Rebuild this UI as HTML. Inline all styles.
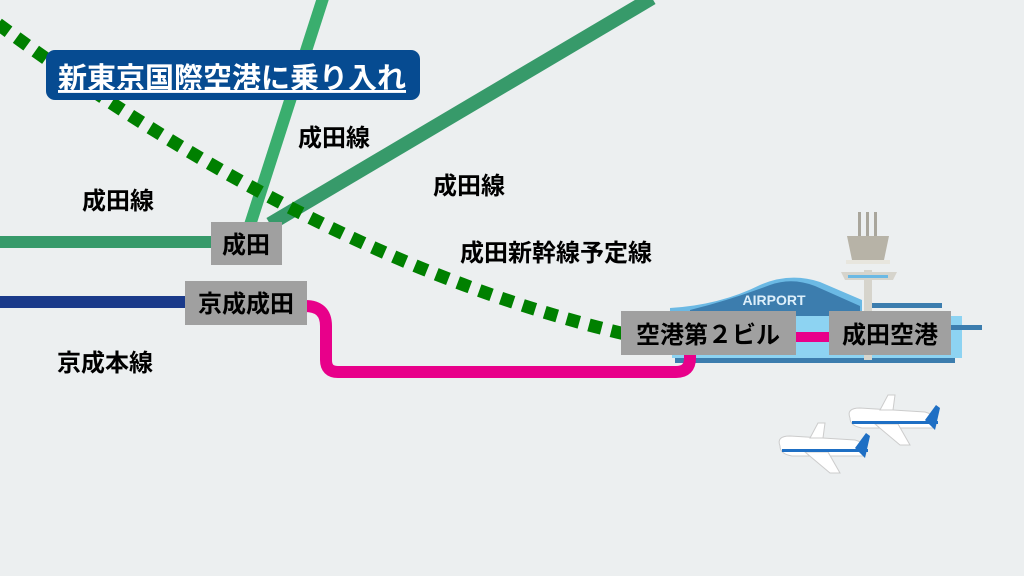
<!DOCTYPE html>
<html><head><meta charset="utf-8"><style>
body{margin:0;width:1024px;height:576px;overflow:hidden;background:#ECEFF0}
svg{position:absolute;left:0;top:0}
text{font-family:"Liberation Sans","Noto Sans CJK JP",sans-serif;font-weight:bold}
</style></head><body>
<svg width="1024" height="576" viewBox="0 0 1024 576">
<rect width="1024" height="576" fill="#ECEFF0"/>
<g>
<path d="M670 308 Q720 305 760 285 Q790 272 820 282 L862 300 L862 318 L670 318 Z" fill="#6BB9E4"/>
<path d="M690 310 Q730 300 770 285 Q792 277 815 286 L860 306 L860 318 L690 318 Z" fill="#3C7DAE"/>
<text x="774" y="305" font-size="14" fill="#DDEFFA" text-anchor="middle" font-weight="normal">AIRPORT</text>
<rect x="672" y="316" width="290" height="42" fill="#8DD3F2"/>
<rect x="870" y="303" width="72" height="5" fill="#3C7DAE"/>
<rect x="870" y="325" width="112" height="5" fill="#3C7DAE"/>
<rect x="675" y="358" width="280" height="5" fill="#3C7DAE"/>
<rect x="864" y="270" width="8" height="90" fill="#D6D4CC"/>
<rect x="858" y="212" width="3" height="24" fill="#A9A69C"/><rect x="866" y="212" width="3" height="24" fill="#A9A69C"/><rect x="874" y="212" width="3" height="24" fill="#A9A69C"/>
<path d="M847 236 L889 236 L884 260 L852 260 Z" fill="#B7B3A7"/>
<rect x="846" y="260" width="44" height="4" fill="#E8E6DE"/>
<path d="M841 272 L897 272 L893 280 L845 280 Z" fill="#D6D4CC"/>
<rect x="848" y="275" width="40" height="3" fill="#6BB9E4"/>
</g>
<line x1="324" y1="-5" x2="250" y2="225" stroke="#3AAE6E" stroke-width="12"/>
<line x1="652" y1="-2" x2="270" y2="224" stroke="#379A6A" stroke-width="14"/>
<line x1="0" y1="242" x2="215" y2="242" stroke="#379A6A" stroke-width="12"/>
<line x1="0" y1="302" x2="190" y2="302" stroke="#1A3A8A" stroke-width="12"/>
<path d="M305 306 Q326 306 326 326 L326 360 Q326 372 338 372 L676 372 Q690 372 690 358 L690 350" fill="none" stroke="#E8008A" stroke-width="12"/>
<path d="M-2 24 Q320 262 625 334" fill="none" stroke="#008000" stroke-width="13" stroke-dasharray="13 10"/>
<rect x="795" y="332" width="36" height="10" fill="#E8008A"/>
<rect x="46" y="50" width="374" height="50" rx="9" fill="#064B91"/>
<text x="58" y="88" font-size="29" fill="#fff" font-weight="normal" text-decoration="underline">新東京国際空港に乗り入れ</text>
<g font-size="24">
<rect x="211" y="222" width="71" height="43" fill="#A0A0A0"/>
<text x="246" y="253" text-anchor="middle">成田</text>
<rect x="185" y="281" width="122" height="44" fill="#A0A0A0"/>
<text x="246" y="312" text-anchor="middle">京成成田</text>
<rect x="621" y="311" width="175" height="44" fill="#A0A0A0"/>
<text x="708" y="343" text-anchor="middle">空港第２ビル</text>
<rect x="829" y="311" width="122" height="44" fill="#A0A0A0"/>
<text x="890" y="343" text-anchor="middle">成田空港</text>
</g>
<g font-size="24">
<text x="298" y="146">成田線</text>
<text x="82" y="209">成田線</text>
<text x="433" y="194">成田線</text>
<text x="460" y="261">成田新幹線予定線</text>
<text x="57" y="371">京成本線</text>
</g>
<g id="pl">
<path d="M850 418 Q846 408 860 408 L925 412 Q940 416 935 428 L862 428 Q850 426 850 418 Z" fill="#fff" stroke="#ccc"/>
<path d="M880 410 L888 395 L895 395 L893 410 Z" fill="#fff" stroke="#ccc"/>
<path d="M925 420 L936 405 L940 408 L935 430 Z" fill="#1E6FC4"/>
<path d="M875 424 L900 445 L910 445 L898 424 Z" fill="#fff" stroke="#ccc"/>
<rect x="852" y="421" width="86" height="3" fill="#1E6FC4"/>
</g>
<use href="#pl" transform="translate(-70 28)"/>
</svg>
</body></html>
